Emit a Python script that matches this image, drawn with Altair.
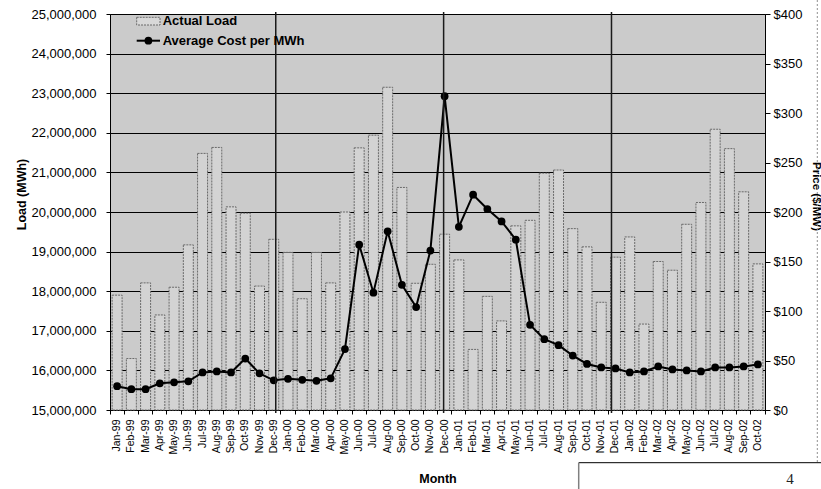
import altair as alt
import pandas as pd

month_names = ["Jan", "Feb", "Mar", "Apr", "May", "Jun", "Jul", "Aug", "Sep", "Oct", "Nov", "Dec"]
years = ["99", "00", "01", "02"]
months = [f"{m}-{y}" for y in years for m in month_names][:46]

# Actual load in millions of MWh
load_m = [
    17.90, 16.30, 18.21, 17.40, 18.10, 19.17, 21.48, 21.63, 20.13, 19.97, 18.13, 19.31,
    18.98, 17.81, 18.98, 18.21, 20.00, 21.62, 21.94, 23.15, 20.62, 18.20, 18.68, 19.44,
    18.79, 16.53, 17.87, 17.25, 19.65, 19.79, 20.98, 21.06, 19.58, 19.12, 17.72, 18.86,
    19.37, 17.17, 18.75, 18.53, 19.69, 20.24, 22.09, 21.60, 20.51, 18.69,
]
# Average cost per MWh ($)
price = [
    24, 21, 21, 27, 28, 29, 38, 39, 38, 52, 37, 30,
    31.5, 30.5, 29.5, 32, 61.5, 167, 118.5, 180.5, 126.5, 104, 161, 317,
    185, 217.5, 203, 190.5, 172, 86, 71.5, 65.5, 55, 46.5, 43, 42,
    38, 39, 44, 41, 40, 39, 43, 43, 44, 46,
]
load = [round(v * 1_000_000) for v in load_m]
dec_months = ["Dec-99", "Dec-00", "Dec-01"]
legend_labels = ["Actual Load", "Average Cost per MWh"]
load_ticks = list(range(15_000_000, 25_000_001, 1_000_000))
price_ticks = list(range(0, 401, 50))

df = pd.DataFrame({"month": months, "load": load, "price": price})
one = pd.DataFrame({"k": [0]})

W, H = 655, 396
FONT = "Liberation Sans"

x_axis = alt.Axis(
    title="Month", labelAngle=-90, labelFontSize=10.5, labelPadding=5,
    labelColor="black", tickSize=4, tickColor="black", domainColor="black",
    bandPosition=1, tickExtra=True, labelOverlap=False,
    titleFontSize=12.5, titleFontWeight="bold", titleColor="black",
    titleY=72, titleBaseline="alphabetic", grid=False,
)
x_scale = alt.Scale(paddingInner=0, paddingOuter=0)
x_main = alt.X("month:N", sort=months, scale=x_scale, axis=x_axis)

bars = alt.Chart(df).mark_bar(
    width=alt.RelativeBandSize(0.7), fill="#d3d3d3", stroke="#6a6a6a",
    strokeDash=[2, 1], strokeWidth=1,
).encode(
    x=x_main,
    y=alt.Y(
        "load:Q",
        scale=alt.Scale(domain=[15_000_000, 25_000_000], zero=False, nice=False),
        axis=alt.Axis(
            title="Load (MWh)", values=load_ticks, format=",.0f",
            labelFontSize=13, labelColor="black", labelPadding=10,
            tickSize=4, tickColor="black", domainColor="black",
            grid=True, gridColor="black", gridWidth=1,
            titleFontSize=12.5, titleFontWeight="bold", titleColor="black",
            titleAngle=-90, titleX=-89, titleY=180, titleAlign="center",
            titleBaseline="middle",
        ),
    ),
    y2=alt.datum(15_000_000),
)

line = alt.Chart(df).mark_line(
    color="black", strokeWidth=2,
    point=alt.OverlayMarkDef(filled=True, color="black", size=60, opacity=1),
).encode(
    x=x_main,
    y=alt.Y(
        "price:Q",
        scale=alt.Scale(domain=[0, 400], nice=False),
        axis=alt.Axis(
            orient="right", title="Price ($/MW)", values=price_ticks, format="$,.0f",
            labelFontSize=13, labelColor="black", labelPadding=3,
            tickSize=5, tickColor="black", domainColor="black", grid=False,
            titleFontSize=11.5, titleFontWeight="bold", titleColor="black",
            titleAngle=90, titleX=50, titleY=182, titleAlign="center",
            titleBaseline="middle",
        ),
    ),
)

rule_offsets = [2, -1, -4]
rules = [
    alt.Chart(df).transform_filter(
        alt.FieldOneOfPredicate(field="month", oneOf=[d])
    ).mark_rule(color="#1a1a1a", strokeWidth=1.5, xOffset=off).encode(
        x=x_main, y=alt.value(-2), y2=alt.value(H + 3)
    )
    for d, off in zip(dec_months, rule_offsets)
]

leg_rect = alt.Chart(one).mark_rect(
    fill="#d8d8d8", stroke="#6a6a6a", strokeDash=[2, 1], strokeWidth=1
).encode(x=alt.value(26.7), x2=alt.value(50), y=alt.value(3.3), y2=alt.value(11))
leg_line = alt.Chart(one).mark_rule(color="black", strokeWidth=2).encode(
    x=alt.value(26.7), x2=alt.value(50), y=alt.value(26.7)
)
leg_pt = alt.Chart(one).mark_point(filled=True, color="black", size=60, opacity=1).encode(
    x=alt.value(38.4), y=alt.value(26.7)
)
leg_t1 = alt.Chart(one).mark_text(
    text=legend_labels[0], align="left", baseline="middle", fontSize=13,
    fontWeight="bold", color="black", font=FONT,
).encode(x=alt.value(52.7), y=alt.value(7.3))
leg_t2 = alt.Chart(one).mark_text(
    text=legend_labels[1], align="left", baseline="middle", fontSize=13,
    fontWeight="bold", color="black", font=FONT,
).encode(x=alt.value(52.7), y=alt.value(26.7))

# page decorations outside the chart
deco_h = alt.Chart(one).mark_rule(color="black", strokeWidth=1).encode(
    x=alt.value(468.7), x2=alt.value(712), y=alt.value(448.7)
)
deco_v = alt.Chart(one).mark_rule(color="#808080", strokeWidth=1.5).encode(
    x=alt.value(468.7), y=alt.value(448.7), y2=alt.value(476)
)
deco_border = alt.Chart(one).mark_rule(color="#909090", strokeWidth=1, strokeDash=[2, 2]).encode(
    x=alt.value(707.3), y=alt.value(-14), y2=alt.value(448.7)
)
page_num = alt.Chart(one).mark_text(
    text="4", align="center", baseline="alphabetic", fontSize=15,
    font="Liberation Serif", color="#222222",
).encode(x=alt.value(680), y=alt.value(470))

chart = alt.layer(
    bars, line, *rules, leg_rect, leg_line, leg_pt, leg_t1, leg_t2,
    deco_h, deco_v, deco_border, page_num,
).resolve_scale(y="independent").properties(
    width=W, height=H,
    autosize=alt.AutoSizeParams(type="none"),
    padding={"left": 110, "top": 14, "right": 56, "bottom": 79},
    background="white",
).configure(font=FONT).configure_view(
    fill="#cbcbcb", stroke="#555555", strokeDash=[2, 1], strokeWidth=1
)

chart.save("out.html", embed_options={"renderer": "svg", "actions": False})
